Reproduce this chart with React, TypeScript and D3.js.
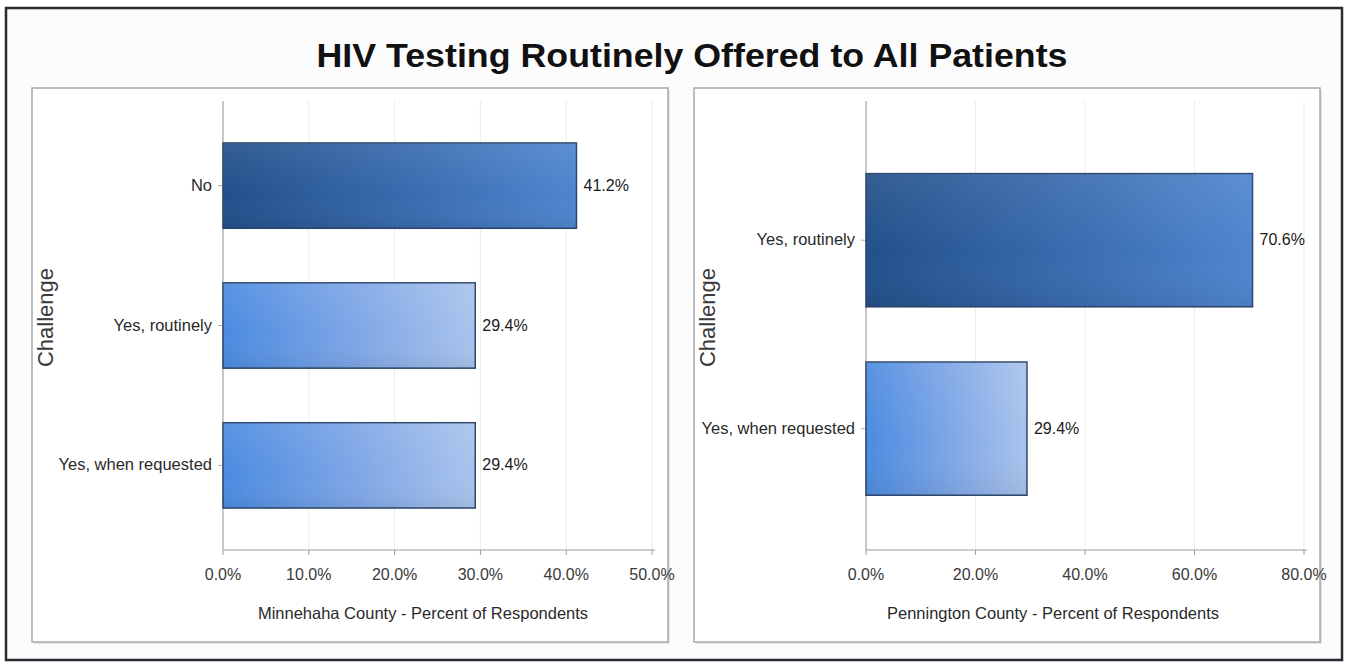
import * as d3 from "d3";
import * as React from "react";

const title = "HIV Testing Routinely Offered to All Patients";

const minnehahaCategories = ["No", "Yes, routinely", "Yes, when requested"];
const minnehahaValues = [41.2, 29.4, 29.4];
const minnehahaTicks = [0, 10, 20, 30, 40, 50];

const penningtonCategories = ["Yes, routinely", "Yes, when requested"];
const penningtonValues = [70.6, 29.4];
const penningtonTicks = [0, 20, 40, 60, 80];

const font = "'Liberation Sans', Arial, sans-serif";

interface PanelProps {
  id: string;
  box: [number, number, number, number];
  plotLeft: number;
  plotRight: number;
  categories: string[];
  values: number[];
  ticks: number[];
  paddingInner: number;
  paddingOuter: number;
  align: number;
  axisTitle: string;
  axisTitleX: number;
}

function Panel(p: PanelProps) {
  const top = 101;
  const bottom = 550;
  const x = d3.scaleLinear([0, p.ticks[p.ticks.length - 1]], [p.plotLeft, p.plotRight]);
  const y = d3
    .scaleBand<string>()
    .domain(p.categories)
    .range([top, bottom])
    .paddingInner(p.paddingInner)
    .paddingOuter(p.paddingOuter)
    .align(p.align);
  const [bx, by, bw, bh] = p.box;

  return (
    <g>
      <rect x={bx + 2} y={by + 2} width={bw} height={bh} fill="#e4e4e4" />
      <rect x={bx} y={by} width={bw} height={bh} fill="#fff" stroke="#a8a8a8" strokeWidth={1.5} />
      {p.ticks.map((t) => (
        <line key={"g" + t} x1={x(t)} x2={x(t)} y1={top} y2={bottom} stroke="#ececec" />
      ))}
      <line x1={p.plotLeft} x2={p.plotLeft} y1={top} y2={bottom} stroke="#9a9a9a" />
      <line x1={p.plotLeft} x2={p.plotRight + 3} y1={bottom} y2={bottom} stroke="#9a9a9a" />
      {p.ticks.map((t) => (
        <g key={"t" + t}>
          <line x1={x(t)} x2={x(t)} y1={bottom} y2={bottom + 5} stroke="#9a9a9a" />
          <text x={x(t)} y={580} textAnchor="middle" fontSize={16} fill="#3a3a3a" fontFamily={font}>
            {t.toFixed(1) + "%"}
          </text>
        </g>
      ))}
      {p.categories.map((c, i) => {
        const yc = (y(c) ?? 0) + y.bandwidth() / 2;
        return (
          <g key={c}>
            <line x1={p.plotLeft - 5} x2={p.plotLeft} y1={yc} y2={yc} stroke="#b0b0b0" />
            <text x={p.plotLeft - 11} y={yc + 5} textAnchor="end" fontSize={16.5} fill="#2a2a2a" fontFamily={font}>
              {c}
            </text>
            <rect
              x={x(0)}
              y={y(c)}
              width={x(p.values[i]) - x(0)}
              height={y.bandwidth()}
              fill={`url(#${p.id}-${i === 0 ? "dark" : "light"})`}
              stroke="#2c466b"
              strokeWidth={1.5}
            />
            <rect
              x={x(0)}
              y={y(c)}
              width={x(p.values[i]) - x(0)}
              height={y.bandwidth()}
              fill={`url(#${p.id}-shade)`}
            />
            <text x={x(p.values[i]) + 7} y={yc + 5} fontSize={16} fill="#1a1a1a" fontFamily={font}>
              {p.values[i].toFixed(1) + "%"}
            </text>
          </g>
        );
      })}
      <text
        transform={`translate(${bx + 21},${(top + bottom) / 2 - 8}) rotate(-90)`}
        textAnchor="middle"
        fontSize={22}
        fill="#3a3a3a"
        fontFamily={font}
      >
        Challenge
      </text>
      <text x={p.axisTitleX} y={619} textAnchor="middle" fontSize={16.5} fill="#2a2a2a" fontFamily={font}>
        {p.axisTitle}
      </text>
    </g>
  );
}

function Gradients({ id }: { id: string }) {
  return (
    <>
      <linearGradient id={id + "-dark"} x1="0" x2="1" y1="0" y2="0">
        <stop offset="0%" stopColor="#22508a" />
        <stop offset="55%" stopColor="#3a6cb0" />
        <stop offset="100%" stopColor="#4f86cf" />
      </linearGradient>
      <linearGradient id={id + "-light"} x1="0" x2="1" y1="0" y2="0">
        <stop offset="0%" stopColor="#4b8be0" />
        <stop offset="50%" stopColor="#7ca5e6" />
        <stop offset="100%" stopColor="#a9c3ec" />
      </linearGradient>
      <linearGradient id={id + "-shade"} x1="0" x2="0" y1="0" y2="1">
        <stop offset="0%" stopColor="#ffffff" stopOpacity={0.08} />
        <stop offset="60%" stopColor="#ffffff" stopOpacity={0} />
        <stop offset="100%" stopColor="#000000" stopOpacity={0.06} />
      </linearGradient>
    </>
  );
}

export default function App() {
  const width = 1346;
  const height = 664;
  return (
    <svg
      width={width}
      height={height}
      viewBox={`0 0 ${width} ${height}`}
      style={{ position: "absolute", left: 0, top: 0 }}
    >
      <defs>
        <Gradients id="a" />
        <Gradients id="b" />
      </defs>
      <rect x={0} y={0} width={width} height={height} fill="#fff" />
      <rect x={6} y={8} width={1336} height={652} fill="#fcfcfd" stroke="#2a2a33" strokeWidth={2.5} />
      <text
        x={692}
        y={67}
        textAnchor="middle"
        fontSize={34}
        fontWeight="bold"
        fill="#111"
        fontFamily={font}
        textLength={751}
        lengthAdjust="spacingAndGlyphs"
      >
        {title}
      </text>
      <Panel
        id="a"
        box={[32, 88, 636, 554]}
        plotLeft={223}
        plotRight={652}
        categories={minnehahaCategories}
        values={minnehahaValues}
        ticks={minnehahaTicks}
        paddingInner={0.39}
        paddingOuter={0.3}
        align={0.5}
        axisTitle="Minnehaha County - Percent of Respondents"
        axisTitleX={423}
      />
      <Panel
        id="b"
        box={[694, 88, 626, 554]}
        plotLeft={866}
        plotRight={1304}
        categories={penningtonCategories}
        values={penningtonValues}
        ticks={penningtonTicks}
        paddingInner={0.293}
        paddingOuter={0.338}
        align={0.57}
        axisTitle="Pennington County - Percent of Respondents"
        axisTitleX={1053}
      />
    </svg>
  );
}
